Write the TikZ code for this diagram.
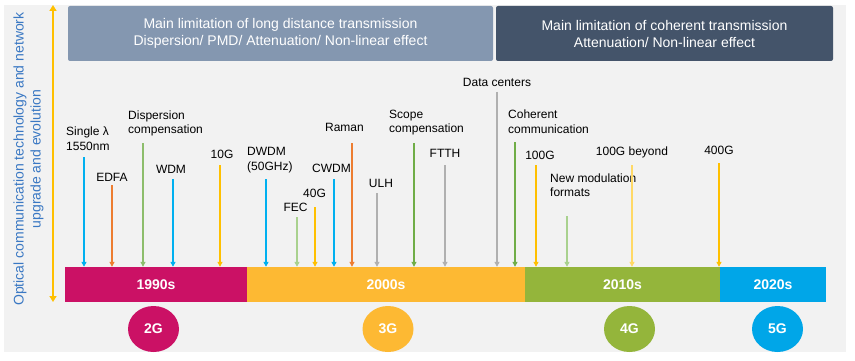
\documentclass[tikz,border=0pt]{standalone}
\usepackage{fontspec}
\setmainfont{Liberation Sans}
\usetikzlibrary{arrows.meta,shapes.geometric}
\definecolor{bggray}{HTML}{F2F2F2}
\definecolor{hdrA}{HTML}{8497B0}
\definecolor{hdrB}{HTML}{44546A}
\definecolor{cNinety}{HTML}{CB1165}
\definecolor{cTwoK}{HTML}{FDB933}
\definecolor{cTen}{HTML}{94B53B}
\definecolor{cTwenty}{HTML}{00A6E8}
\definecolor{aBlue}{HTML}{00B0F0}
\definecolor{aOrange}{HTML}{ED7D31}
\definecolor{aGreen}{HTML}{70AD47}
\definecolor{aLGreen}{HTML}{A9D18E}
\definecolor{aYellow}{HTML}{FFC000}
\definecolor{aLYellow}{HTML}{FFD966}
\definecolor{aGray}{HTML}{B0B0B0}
\definecolor{axBlue}{HTML}{3A78C3}
\begin{document}
\begin{tikzpicture}[x=1pt,y=-1pt,
  hdr/.style={draw=none, rounded corners=2pt, text=white, align=center, inner sep=0pt,
    minimum height=55pt, font=\fontsize{14}{17}\selectfont},
  bar/.style={draw=none, text=white, inner sep=0pt, minimum height=35pt,
    font=\fontsize{14}{16}\selectfont\bfseries},
  gen/.style={ellipse, draw=none, text=white, inner sep=0pt, minimum width=51pt,
    minimum height=46pt, font=\fontsize{14}{16}\selectfont\bfseries},
  lbl/.style={inner sep=0pt, align=left, font=\fontsize{12}{14.5}\selectfont},
  mk/.style={-{Triangle[width=5pt,length=5pt]}},
  thick arr/.style={mk, line width=1.6pt},
  thin arr/.style={mk, line width=1.1pt}]
\useasboundingbox (0,0) rectangle (855,361);
\fill[bggray] (4,5) rectangle (846,352);

% header boxes
\node[hdr, fill=hdrA, minimum width=425pt] (h1) at (280.5,33.5)
  {Main limitation of long distance transmission\\Dispersion/ PMD/ Attenuation/ Non-linear effect};
\node[hdr, fill=hdrB, minimum width=337pt] (h2) at (664.5,33.5)
  {Main limitation of coherent transmission\\Attenuation/ Non-linear effect};

% vertical axis
\coordinate (axT) at (53,5);
\coordinate (axB) at (53,302);
\draw[{Triangle[width=7pt,length=6pt]}-{Triangle[width=7pt,length=6pt]}, aYellow, line width=1.5pt] (axT) -- (axB);
\node[rotate=90, align=center, inner sep=0pt, text=axBlue, font=\fontsize{14}{17}\selectfont] (axlbl) at (28.5,159)
  {Optical communication technology and network\\upgrade and evolution};

% timeline bars
\node[bar, fill=cNinety, minimum width=182pt] (b90) at (156,284.5) {1990s};
\node[bar, fill=cTwoK, minimum width=278pt] (b00) at (386,284.5) {2000s};
\node[bar, fill=cTen, minimum width=195pt] (b10) at (622.5,284.5) {2010s};
\node[bar, fill=cTwenty, minimum width=106pt] (b20) at (773,284.5) {2020s};

% generations
\node[gen, fill=cNinety] (g2) at (153.5,329) {2G};
\node[gen, fill=cTwoK] (g3) at (388,329) {3G};
\node[gen, fill=cTen] (g4) at (629.5,329) {4G};
\node[gen, fill=cTwenty] (g5) at (777.5,329) {5G};

% labels
\node[lbl, anchor=west] (lSingle) at (66,138.5) {Single λ\\1550nm};
\node[lbl] (lEDFA) at (112,177) {EDFA};
\node[lbl, anchor=west] (lDisp) at (128,123.5) {Dispersion\\compensation};
\node[lbl] (lWDM) at (171,169.5) {WDM};
\node[lbl] (lTen) at (222,154) {10G};
\node[lbl, anchor=west] (lDWDM) at (247,160) {DWDM\\(50GHz)};
\node[lbl] (lFEC) at (295.5,207.5) {FEC};
\node[lbl] (lForty) at (314.5,193.5) {40G};
\node[lbl] (lCWDM) at (331.5,168.5) {CWDM};
\node[lbl] (lRaman) at (344.5,127) {Raman};
\node[lbl] (lULH) at (381,183.5) {ULH};
\node[lbl, anchor=west] (lScope) at (389,122.5) {Scope\\compensation};
\node[lbl] (lFTTH) at (445,153) {FTTH};
\node[lbl] (lData) at (497,82) {Data centers};
\node[lbl, anchor=west] (lCoh) at (508,121.5) {Coherent\\communication};
\node[lbl] (lHund) at (540,155) {100G};
\node[lbl, anchor=west] (lNew) at (550,185) {New modulation\\formats};
\node[lbl] (lBeyond) at (632,152) {100G beyond};
\node[lbl] (lFourH) at (719,150) {400G};

% arrow tops
\coordinate (tSingle) at (84,157);
\coordinate (tEDFA) at (112,185);
\coordinate (tDisp) at (143,143);
\coordinate (tWDM) at (173,179);
\coordinate (tTen) at (220,165);
\coordinate (tDWDM) at (266,179);
\coordinate (tFEC) at (297,217);
\coordinate (tForty) at (315,207);
\coordinate (tCWDM) at (334,179);
\coordinate (tRaman) at (352,143);
\coordinate (tULH) at (377,193);
\coordinate (tScope) at (414,143);
\coordinate (tFTTH) at (445,165);
\coordinate (tData) at (497,92);
\coordinate (tCoh) at (515,142);
\coordinate (tHund) at (536,165);
\coordinate (tNew) at (567,216);
\coordinate (tBeyond) at (632,165);
\coordinate (tFourH) at (719,163);

% arrows
\draw[thick arr, aBlue] (tSingle) -- (tSingle |- b90.north);
\draw[thin arr, aOrange] (tEDFA) -- (tEDFA |- b90.north);
\draw[thin arr, aGreen!80] (tDisp) -- (tDisp |- b90.north);
\draw[thick arr, aBlue] (tWDM) -- (tWDM |- b90.north);
\draw[thin arr, aYellow] (tTen) -- (tTen |- b90.north);
\draw[thick arr, aBlue] (tDWDM) -- (tDWDM |- b00.north);
\draw[thick arr, aLGreen] (tFEC) -- (tFEC |- b00.north);
\draw[thin arr, aYellow] (tForty) -- (tForty |- b00.north);
\draw[thick arr, aBlue] (tCWDM) -- (tCWDM |- b00.north);
\draw[thin arr, aOrange] (tRaman) -- (tRaman |- b00.north);
\draw[thin arr, aGray] (tULH) -- (tULH |- b00.north);
\draw[thin arr, aGreen] (tScope) -- (tScope |- b00.north);
\draw[thin arr, aGray] (tFTTH) -- (tFTTH |- b00.north);
\draw[thin arr, aGray] (tData) -- (tData |- b00.north);
\draw[thin arr, aGreen] (tCoh) -- (tCoh |- b00.north);
\draw[thin arr, aYellow] (tHund) -- (tHund |- b10.north);
\draw[thick arr, aLGreen] (tNew) -- (tNew |- b10.north);
\draw[thin arr, aLYellow] (tBeyond) -- (tBeyond |- b10.north);
\draw[thin arr, aYellow] (tFourH) -- (tFourH |- b10.north);
\end{tikzpicture}
\end{document}
